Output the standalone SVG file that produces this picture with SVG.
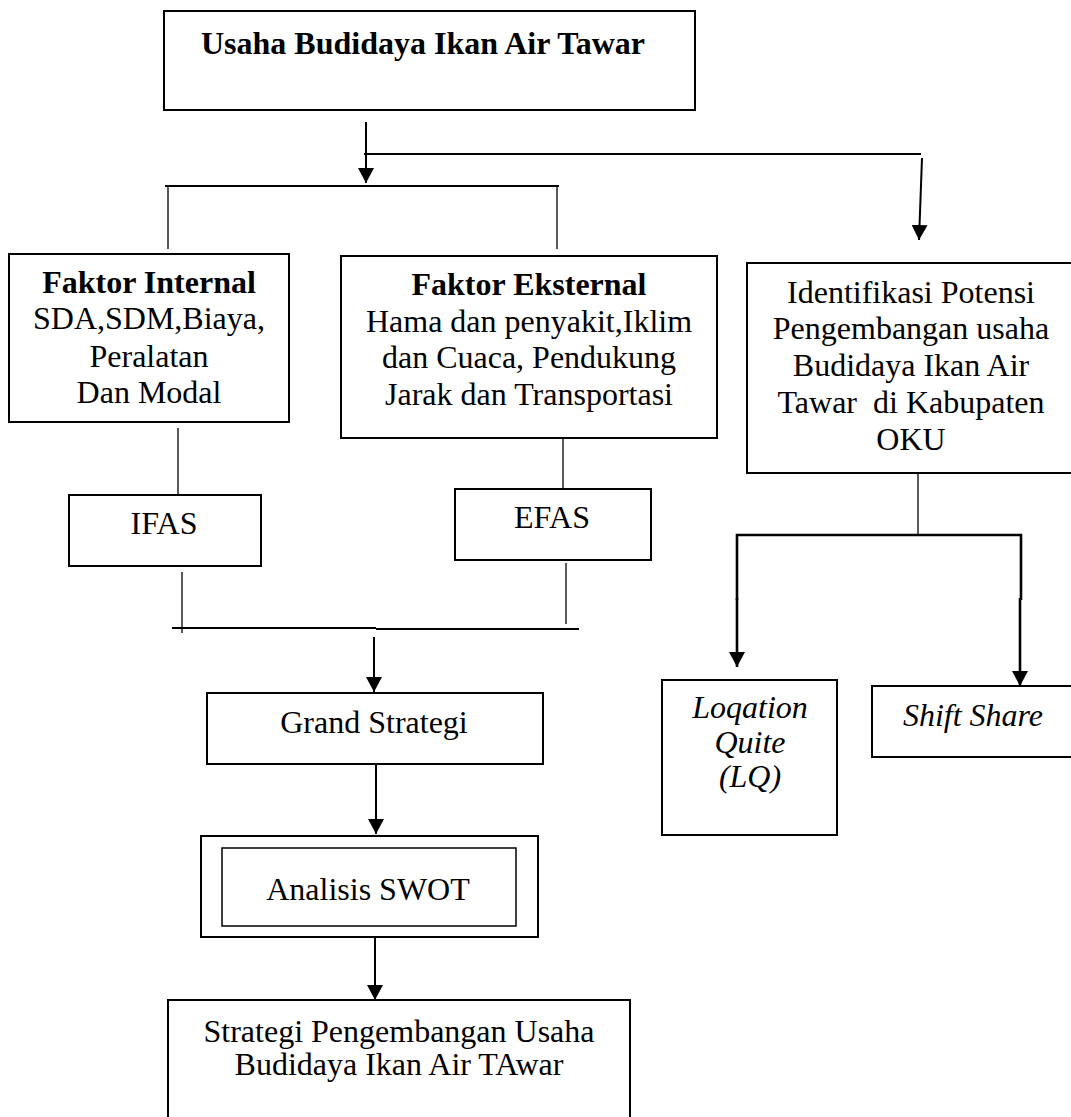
<svg xmlns="http://www.w3.org/2000/svg" width="1071" height="1117" viewBox="0 0 1071 1117" font-family="'Liberation Serif', 'Times New Roman', Tinos, serif">
<style>
.box{fill:#fff;stroke:#000;stroke-width:2}
.thin{fill:none;stroke:#000;stroke-width:1.3}
.line{fill:none;stroke:#000;stroke-width:2}
.thick{fill:none;stroke:#000;stroke-width:2.6}
text{font-family:'Liberation Serif','Times New Roman',Tinos,serif;font-size:32px;fill:#000;text-anchor:middle}
.b{font-weight:bold}
.i{font-style:italic}
</style>
<defs>
<marker id="ah" markerUnits="userSpaceOnUse" markerWidth="16" markerHeight="16" viewBox="0 0 16 16" refX="15" refY="8" orient="auto">
<path d="M0,0 L15,8 L0,16 Z" fill="#000"/>
</marker>
</defs>
<rect width="1071" height="1117" fill="#fff"/>
<g id="connectors">
<line class="line" x1="366" y1="122" x2="366" y2="183" marker-end="url(#ah)"/>
<polyline class="line" points="364,154 921,154"/>
<line class="line" x1="922" y1="158" x2="919" y2="240" marker-end="url(#ah)"/>
<line class="line" x1="165" y1="186" x2="559" y2="186"/>
<line class="thin" x1="168" y1="187" x2="168" y2="249"/>
<line class="thin" x1="557" y1="187" x2="557" y2="249"/>
<line class="thin" x1="178" y1="428" x2="178" y2="495"/>
<line class="thin" x1="563" y1="433" x2="563" y2="489"/>
<line class="thin" x1="182" y1="572" x2="182" y2="633"/>
<line class="thin" x1="566" y1="563" x2="566" y2="624"/>
<line class="line" x1="172" y1="628" x2="376" y2="628"/>
<line class="line" x1="376" y1="629" x2="579" y2="629"/>
<line class="line" x1="374" y1="637" x2="374" y2="692" marker-end="url(#ah)"/>
<line class="line" x1="376" y1="764" x2="376" y2="834" marker-end="url(#ah)"/>
<line class="line" x1="375" y1="931" x2="375" y2="1000" marker-end="url(#ah)"/>
<line class="thin" x1="918" y1="473" x2="918" y2="535"/>
<polyline class="thick" points="737,600 737,535 1021,535 1021,600"/>
<line class="thick" x1="737" y1="598" x2="737" y2="667" marker-end="url(#ah)"/>
<line class="thick" x1="1020" y1="598" x2="1020" y2="686" marker-end="url(#ah)"/>
</g>
<g id="n-title">
<rect class="box" x="164" y="11" width="531" height="99"/>
<text class="b" x="423" y="54">Usaha Budidaya Ikan Air Tawar</text>
</g>
<g id="n-internal">
<rect class="box" x="9" y="254" width="280" height="168"/>
<text class="b" x="149" y="293">Faktor Internal</text>
<text x="149" y="329">SDA,SDM,Biaya,</text>
<text x="149" y="367">Peralatan</text>
<text x="149" y="403">Dan Modal</text>
</g>
<g id="n-eksternal">
<rect class="box" x="341" y="256" width="376" height="182"/>
<text class="b" x="529" y="295">Faktor Eksternal</text>
<text x="529" y="332">Hama dan penyakit,Iklim</text>
<text x="529" y="368">dan Cuaca, Pendukung</text>
<text x="529" y="405">Jarak dan Transportasi</text>
</g>
<g id="n-identifikasi">
<rect class="box" x="747" y="263" width="330" height="210"/>
<text x="911" y="303">Identifikasi Potensi</text>
<text x="911" y="339">Pengembangan usaha</text>
<text x="911" y="376">Budidaya Ikan Air</text>
<text x="911" y="413" xml:space="preserve">Tawar  di Kabupaten</text>
<text x="911" y="450">OKU</text>
</g>
<g id="n-ifas">
<rect class="box" x="69" y="495" width="192" height="71"/>
<text x="164" y="534">IFAS</text>
</g>
<g id="n-efas">
<rect class="box" x="455" y="489" width="196" height="71"/>
<text x="552" y="528">EFAS</text>
</g>
<g id="n-grand">
<rect class="box" x="207" y="693" width="336" height="71"/>
<text x="374" y="733">Grand Strategi</text>
</g>
<g id="n-swot">
<rect class="box" x="201" y="836" width="337" height="101"/>
<rect class="box" style="stroke-width:1.5" x="222" y="848" width="294" height="78"/>
<text x="368" y="900">Analisis SWOT</text>
</g>
<g id="n-strategi">
<path class="line" d="M168,1120 L168,1000 L630,1000 L630,1120"/>
<text x="399" y="1042">Strategi Pengembangan Usaha</text>
<text x="399" y="1075">Budidaya Ikan Air TAwar</text>
</g>
<g id="n-lq">
<rect class="box" x="662" y="680" width="175" height="155"/>
<text class="i" x="750" y="718">Loqation</text>
<text class="i" x="750" y="753">Quite</text>
<text class="i" x="750" y="787">(LQ)</text>
</g>
<g id="n-ss">
<rect class="box" x="872" y="686" width="205" height="71"/>
<text class="i" x="973" y="726">Shift Share</text>
</g>
</svg>
